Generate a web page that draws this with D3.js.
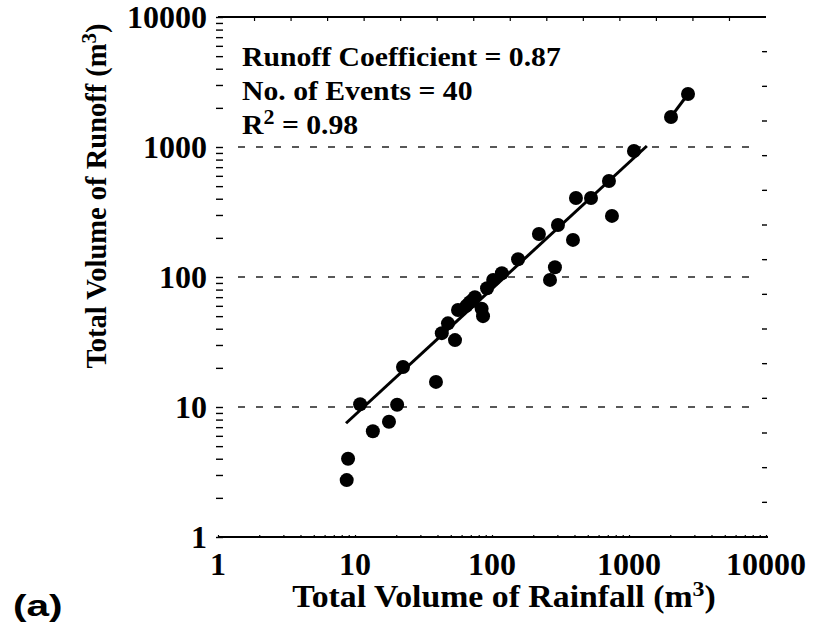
<!DOCTYPE html>
<html>
<head>
<meta charset="utf-8">
<script src="https://cdn.jsdelivr.net/npm/d3@7"></script>
<style>
  html, body { margin: 0; padding: 0; background: #fff; }
  svg { display: block; }
  text { font-family: "Liberation Serif", "Times New Roman", serif; fill: #000; }
</style>
</head>
<body>
<svg id="chart" width="815" height="631"></svg>
<script>
// Rainfall vs runoff volumes per event (m^3)
const rainfall = [10.9, 20.3, 13.5, 17.7, 8.9, 8.7, 39, 22.4, 43, 47.7, 53.7, 56.5,
  69, 75, 84, 86, 92, 102, 118, 155, 220, 303, 390, 751, 410, 528, 288, 265,
  2697, 2026, 1087, 714, 65, 72];
const runoff = [10.5, 10.4, 6.5, 7.7, 4.0, 2.74, 15.6, 20.3, 37, 44, 32.7, 55.7,
  64, 70, 57, 50, 82, 95, 107, 137, 214, 251, 193, 295, 405, 405, 119, 95,
  2557, 1702, 931, 548, 60, 66];

// Fitted line end points and the short segment joining the two largest events
const fitRain = [8.6, 1350];
const fitRunoff = [7.5, 1018];
const topRain = [2026, 2697];
const topRunoff = [1702, 2557];

const xTickValues = [1, 10, 100, 1000, 10000];
const yTickValues = [1, 10, 100, 1000, 10000];
const gridValues = [10, 100, 1000];

const statLines = ["Runoff Coefficient = 0.87", "No. of Events = 40"];
const r2Text = "0.98";

const svg = d3.select("#chart");
const x = d3.scaleLog().domain([1, 10000]).range([218, 766]);
const y = d3.scaleLog().domain([1, 10000]).range([537, 17]);

// minor log ticks
const minor = [];
for (let d = 1; d < 10000; d *= 10) for (let k = 1; k <= 9; k++) minor.push(d * k);
minor.push(10000);

// horizontal dashed grid
svg.append("g").selectAll("line").data(gridValues).join("line")
  .attr("x1", 238).attr("x2", 757)
  .attr("y1", d => y(d)).attr("y2", d => y(d))
  .attr("stroke", "#222").attr("stroke-width", 1.6)
  .attr("stroke-dasharray", "7,11");

// left axis: inward log ticks, no spine
svg.append("g").attr("transform", "translate(216,0)")
  .call(d3.axisRight(y).tickValues(minor).tickSize(7).tickFormat(""))
  .call(g => g.select(".domain").remove())
  .selectAll("line").attr("stroke-width", 1.4);

// bottom axis: spine with small log ticks
svg.append("g").attr("transform", "translate(0,537)")
  .call(d3.axisTop(x).tickValues(minor).tickSize(2).tickFormat("").tickSizeOuter(0))
  .call(g => g.select(".domain").attr("stroke-width", 2).attr("d", "M218,0H768"))
  .selectAll("line").attr("stroke-width", 1.2);

// top spine with evenly spaced ticks
const topTicks = d3.range(0, 16);
const lin = d3.scaleLinear().domain([0, 15]).range([218, 766]);
svg.append("line").attr("x1", 218).attr("x2", 766).attr("y1", 17).attr("y2", 17)
  .attr("stroke", "#000").attr("stroke-width", 2);
svg.append("g").selectAll("line").data(topTicks.slice(1, 15)).join("line")
  .attr("x1", d => lin(d)).attr("x2", d => lin(d)).attr("y1", 17).attr("y2", 21)
  .attr("stroke", "#000").attr("stroke-width", 1.2);

// right side evenly spaced ticks, no spine
const linY = d3.scaleLinear().domain([0, 15]).range([17, 537]);
svg.append("g").selectAll("line").data(topTicks.slice(1, 15)).join("line")
  .attr("x1", 762).attr("x2", 767).attr("y1", d => linY(d)).attr("y2", d => linY(d))
  .attr("stroke", "#000").attr("stroke-width", 1.4);

// tick labels
svg.append("g").selectAll("text").data(yTickValues).join("text")
  .attr("x", 207).attr("y", d => y(d)).attr("dy", "0.34em")
  .attr("text-anchor", "end").attr("font-size", 32).attr("font-weight", "bold")
  .text(d => d);
svg.append("g").selectAll("text").data(xTickValues).join("text")
  .attr("x", d => x(d)).attr("y", 575)
  .attr("text-anchor", "middle").attr("font-size", 32).attr("font-weight", "bold")
  .text(d => d);

// fitted line
const line = d3.line().x(d => x(d[0])).y(d => y(d[1]));
svg.append("path").datum(d3.zip(fitRain, fitRunoff)).attr("d", line)
  .attr("fill", "none").attr("stroke", "#000").attr("stroke-width", 3);
svg.append("path").datum(d3.zip(topRain, topRunoff)).attr("d", line)
  .attr("fill", "none").attr("stroke", "#000").attr("stroke-width", 3);

// events
svg.append("g").selectAll("circle").data(d3.zip(rainfall, runoff)).join("circle")
  .attr("cx", d => x(d[0])).attr("cy", d => y(d[1])).attr("r", 7)
  .attr("fill", "#000");

// statistics box (slightly widened type)
const stats = svg.append("g").attr("transform", "translate(242,0) scale(1.1,1)")
  .attr("font-size", 27).attr("font-weight", "bold");
stats.selectAll("text.s").data(statLines).join("text").attr("class", "s")
  .attr("x", 0).attr("y", (d, i) => 66 + i * 34).text(d => d);
const r2 = stats.append("text").attr("x", 0).attr("y", 134);
r2.append("tspan").text("R");
r2.append("tspan").attr("dy", -10).attr("font-size", 20).text("2");
r2.append("tspan").attr("dy", 10).text(" = " + r2Text);

// axis titles
const xt = svg.append("text").attr("transform", "translate(504,607) scale(1.09,1)")
  .attr("text-anchor", "middle").attr("font-size", 31).attr("font-weight", "bold");
xt.append("tspan").text("Total Volume of Rainfall (m");
xt.append("tspan").attr("dy", -11).attr("font-size", 22).text("3");
xt.append("tspan").attr("dy", 11).text(")");

const yt = svg.append("text").attr("transform", "translate(106,196) rotate(-90)")
  .attr("text-anchor", "middle").attr("font-size", 28.5).attr("font-weight", "bold");
yt.append("tspan").text("Total Volume of Runoff (m");
yt.append("tspan").attr("dy", -10).attr("font-size", 21).text("3");
yt.append("tspan").attr("dy", 10).text(")");

svg.append("text").attr("transform", "translate(13,616) scale(1.4,1)")
  .style("font-family", "'Liberation Sans', Arial, sans-serif")
  .attr("font-size", 29).attr("font-weight", "bold").text("(a)");
</script>
</body>
</html>
